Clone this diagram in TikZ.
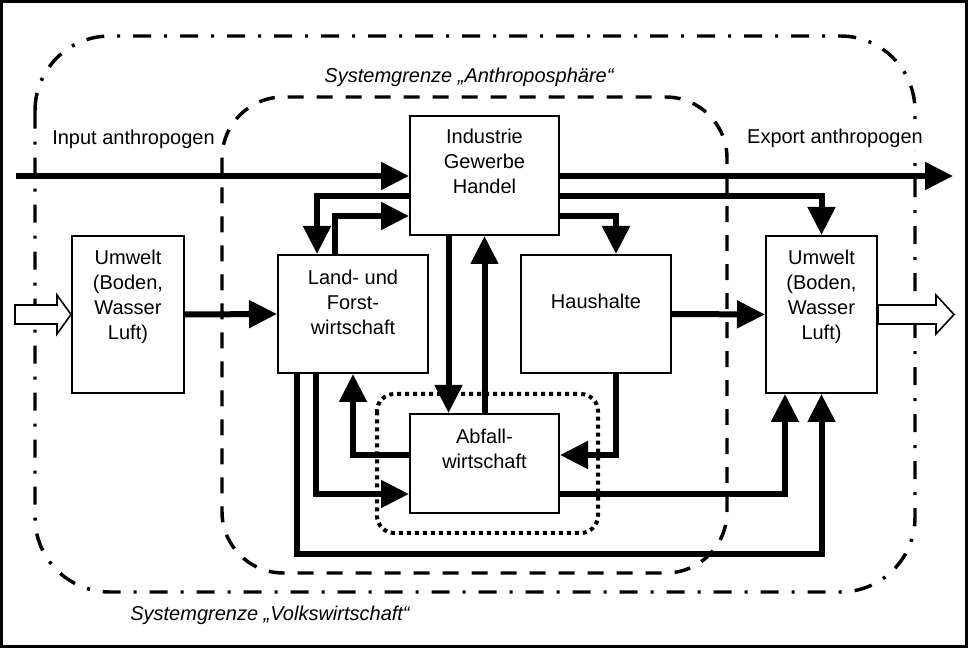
\documentclass[tikz,border=0pt]{standalone}
\usepackage{fontspec}
\setmainfont{Liberation Sans}
\usetikzlibrary{arrows.meta}
\usetikzlibrary{calc}
\usetikzlibrary{positioning}

\begin{document}
\begin{tikzpicture}[x=0.75pt, y=-0.75pt,
    box/.style={draw, line width=1.5pt, fill=white, inner sep=0pt},
    txt/.style={align=center, inner sep=0pt, font=\fontsize{15}{18.6}\selectfont},
    flow/.style={line width=4.5pt, -{Triangle[length=21pt, width=20pt]}},
    hollow/.style={draw, line width=1.2pt, fill=white},
    vwBound/.style={line width=2.6pt, dash pattern=on 13.5pt off 9.75pt on 2.25pt off 9.75pt, rounded corners=56pt},
    apBound/.style={line width=2.6pt, dash pattern=on 12pt off 9.75pt, rounded corners=46pt},
    abBound/.style={line width=3pt, dash pattern=on 3pt off 3pt, rounded corners=13pt}]
      \useasboundingbox (0,0) rectangle (971,655);
      \draw[line width=2.25pt] (1.5,1.5) rectangle (966.5,646.5);

      % system boundaries
      \draw[vwBound] (35,36) rectangle (915,592);
      \draw[apBound] (222,97) rectangle (727,573);
      \draw[abBound] (377,394) rectangle (598,533);

      \node[txt, anchor=base] (inLbl) at (133.5,145) {Input anthropogen};
      \node[txt, anchor=base, fill=white, inner sep=1.5pt] (exLbl) at (835,144) {Export anthropogen};
      \node[txt, anchor=base, font=\fontsize{15}{18.6}\selectfont\itshape] (apLbl) at (469,83) {Systemgrenze „Anthroposphäre“};
      \node[txt, anchor=base, font=\fontsize{15}{18.6}\selectfont\itshape] (vwLbl) at (270,620) {Systemgrenze „Volkswirtschaft“};

      % boxes
      \node[box, minimum width=84pt, minimum height=117.75pt] (uwL) at (128,314.5) {};
      \node[box, minimum width=112.5pt, minimum height=88.5pt] (lf) at (353,314) {};
      \node[box, minimum width=111.75pt, minimum height=89.25pt] (ind) at (484.5,175.5) {};
      \node[box, minimum width=112.5pt, minimum height=88.5pt] (hh) at (596,314) {};
      \node[box, minimum width=111.75pt, minimum height=74.25pt] (abf) at (484.5,463.5) {};
      \node[box, minimum width=83.25pt, minimum height=117.75pt] (uwR) at (821.5,314.5) {};

      \node[txt, below=11.25pt of uwL.north] (uwLT) {Umwelt\\(Boden,\\Wasser\\Luft)};
      \node[txt, below=12pt of lf.north] (lfT) {Land- und\\Forst-\\wirtschaft};
      \node[txt, below=10.5pt of ind.north] (indT) {Industrie\\Gewerbe\\Handel};
      \node[txt, below=30pt of hh.north] (hhT) {Haushalte};
      \node[txt, below=12pt of abf.north] (abfT) {Abfall-\\wirtschaft};
      \node[txt, below=11.25pt of uwR.north] (uwRT) {Umwelt\\(Boden,\\Wasser\\Luft)};

      % flows
      \coordinate (inStart) at (16,176);
      \coordinate (exEnd) at (953,176);
      \draw[flow] (inStart) -- (inStart -| ind.west);
      \draw[flow] (exEnd -| ind.east) -- (exEnd);
      \draw[flow] ($(ind.east)+(0,20.5)$) -| (uwR.north);
      \draw[flow] ($(ind.east)+(0,40.5)$) -| ($(hh.north)+(20,0)$);
      \draw[flow] ($(ind.west)+(0,20.5)$) -| ($(lf.north)+(-36,0)$);
      \draw[flow] ($(lf.north)+(-18,0)$) |- ($(ind.west)+(0,40.5)$);
      \draw[flow] ($(ind.south)+(-36,0)$) -- ($(abf.north)+(-36,0)$);
      \draw[flow] (abf.north) -- (ind.south);
      \draw[flow] (uwL.east) -- (lf.west);
      \draw[flow] (hh.east) -- (uwR.west);
      \draw[flow] ($(hh.south)+(20,0)$) |- ($(abf.east)+(0,-8.5)$);
      \draw[flow] ($(abf.west)+(0,-8.5)$) -| (lf.south);
      \draw[flow] ($(lf.south)+(-37,0)$) |- ($(abf.west)+(0,30.5)$);
      \draw[flow] ($(abf.east)+(0,30.5)$) -| ($(uwR.south)+(-36.5,0)$);
      \draw[flow] ($(lf.south)+(-56,0)$) -- ++(0,180) -| (uwR.south);

      % natural input and output
      \draw[hollow] (uwL.west) -- ++(-14,-19.5) -- ++(0,10) -- ++(-42,0) -- ++(0,19) -- ++(42,0) -- ++(0,10) -- cycle;
      \draw[hollow] (uwR.east) ++(0,-9.5) -- ++(58,0) -- ++(0,-10) -- ++(18,19.5) -- ++(-18,19.5) -- ++(0,-10) -- ++(-58,0) -- cycle;
\end{tikzpicture}
\end{document}
